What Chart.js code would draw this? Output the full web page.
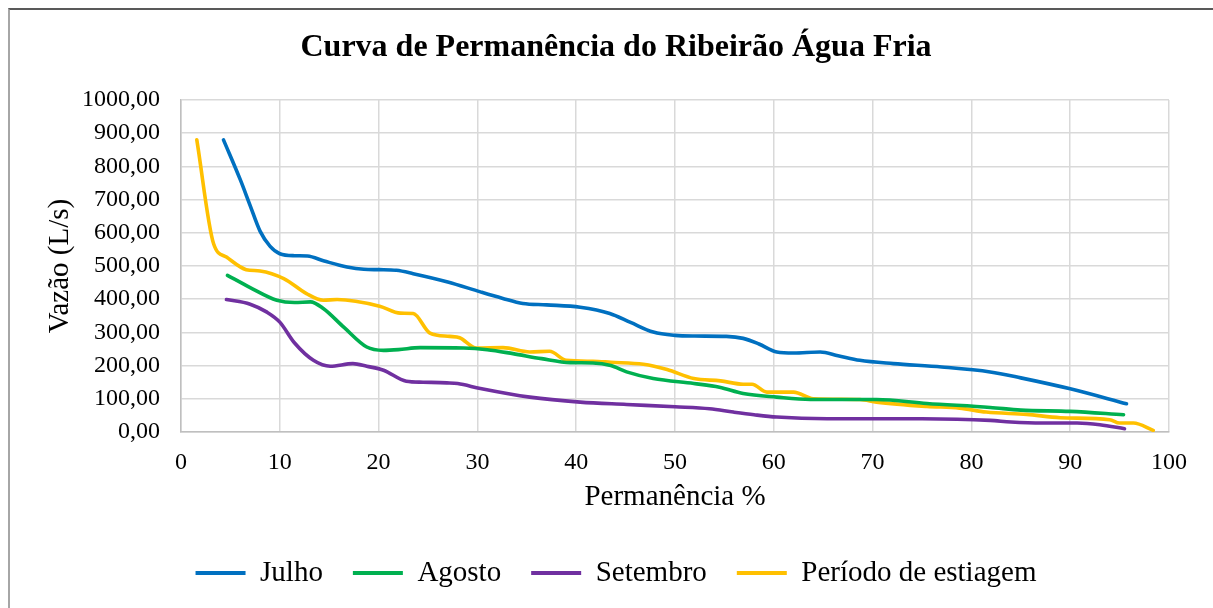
<!DOCTYPE html>
<html>
<head>
<meta charset="utf-8">
<script src="https://cdn.jsdelivr.net/npm/chart.js@4.4.1/dist/chart.umd.min.js"></script>
<style>
  html, body { margin: 0; padding: 0; background: #ffffff; overflow: hidden; }
  #frame { position: absolute; left: 8px; top: 8px; width: 1400px; height: 800px;
           border-top: 2px solid #595959; border-left: 2px solid #a6a6a6; }
  #wrap { position: absolute; left: 0; top: 0; width: 1213px; height: 608px; }
</style>
</head>
<body>
<div id="frame"></div>
<div id="wrap"><canvas id="c" width="1213" height="608"></canvas></div>
<script>
const chartTitle = 'Curva de Permanência do Ribeirão Água Fria';
const seriesNames = ['Julho', 'Agosto', 'Setembro', 'Período de estiagem'];
const seriesColors = ['#0070C0', '#00B050', '#7030A0', '#FFC000'];
const yTicks = [0, 100, 200, 300, 400, 500, 600, 700, 800, 900, 1000];
const xTicks = [0, 10, 20, 30, 40, 50, 60, 70, 80, 90, 100];

const julhoX = [4.3, 6, 7, 8, 9, 10, 11.5, 12.8, 14.5, 16.8, 18.5, 20.1, 21.8, 23.5, 27, 30.3, 32.5, 34.6, 37, 40.4, 43.4, 45.5, 47.8, 50, 52, 55.2, 56.9, 58.5, 60.3, 62, 64.7, 66.5, 68.7, 72.1, 77, 81.9, 85, 90, 95.7];
const julhoY = [880, 760, 682, 605, 560, 537, 531, 530, 515, 497, 490, 489, 487, 477, 452, 422, 403, 387, 383, 376, 357, 330, 301, 291, 289, 288, 282, 265, 241, 238, 241, 230, 216, 206, 196, 181, 163, 130, 85];

const agostoX = [4.7, 7, 9.7, 11.5, 13.1, 14.4, 16.5, 18.8, 20.5, 22, 24.2, 28.6, 31, 33.6, 36.5, 39.4, 41.7, 43.5, 45.1, 47.8, 51.9, 54.5, 56.9, 60.3, 63.7, 70.4, 75.5, 81.9, 85, 90, 95.4];
const agostoY = [472, 435, 397, 390, 392, 372, 315, 256, 246, 248, 254, 253, 248, 236, 221, 209, 208, 200, 181, 161, 146, 135, 116, 105, 98, 98, 86, 74, 66, 62, 52];

const setembroX = [4.6, 7, 8.7, 10, 11.5, 13.4, 15.1, 17.4, 18.8, 20.5, 22.8, 24.5, 26.9, 28, 30.3, 35.3, 40.4, 45.1, 50, 53.5, 55.9, 58, 60.3, 65.4, 70, 75, 81.9, 84, 87.2, 90.7, 93, 95.5];
const setembroY = [399, 385, 361, 331, 268, 216, 198, 206, 198, 186, 153, 150, 148, 146, 131, 105, 90, 83, 76, 70, 60, 52, 45, 40, 40, 40, 35, 30, 27, 27, 22, 10];

const estiagemX = [1.6, 3.3, 4.6, 6.6, 8, 10.4, 12.7, 14.4, 15.8, 20.1, 22.2, 23.5, 25.2, 27.2, 28.2, 29.9, 32.6, 35.3, 37.3, 39, 41.7, 43.5, 46.8, 49.2, 51.9, 54.6, 56.9, 57.8, 59.3, 62, 64, 68.7, 70.4, 75.5, 78.8, 81.5, 85.6, 89, 94, 95, 96.4, 98.4];
const estiagemY = [880, 567, 527, 489, 485, 462, 417, 397, 399, 379, 358, 357, 298, 288, 284, 253, 254, 241, 243, 216, 213, 210, 204, 188, 161, 154, 144, 144, 120, 120, 100, 98, 90, 77, 72, 60, 53, 43, 37, 27, 27, 5];

const seriesX = [julhoX, agostoX, setembroX, estiagemX];
const seriesY = [julhoY, agostoY, setembroY, estiagemY];

const FONT = "'Liberation Serif', 'Times New Roman', serif";

const datasets = seriesNames.map((name, i) => ({
  label: name,
  data: seriesX[i].map((x, k) => ({ x: x, y: seriesY[i][k] })),
  borderColor: seriesColors[i],
  backgroundColor: seriesColors[i],
  borderWidth: 3.6,
  showLine: true,
  pointRadius: 0,
  pointHoverRadius: 0,
  cubicInterpolationMode: 'monotone',
  borderCapStyle: 'round',
  borderJoinStyle: 'round',
  yAxisID: 'y'
}));

new Chart(document.getElementById('c'), {
  type: 'scatter',
  data: { datasets: datasets },
  options: {
    responsive: false,
    animation: false,
    devicePixelRatio: 1,
    layout: { padding: { left: 19, right: 0, top: 0, bottom: 10.5 } },
    plugins: {
      tooltip: { enabled: false },
      title: {
        display: true,
        text: chartTitle,
        color: '#000000',
        font: { family: FONT, size: 32, weight: 'bold', lineHeight: 1.2 },
        padding: { top: 28.8, bottom: 32.8 }
      },
      legend: {
        position: 'bottom',
        labels: {
          color: '#000000',
          font: { family: FONT, size: 29 },
          boxWidth: 50,
          boxHeight: 4,
          padding: 30,
          generateLabels: (chart) => {
            const items = Chart.defaults.plugins.legend.labels.generateLabels(chart);
            return items.map(it => Object.assign(it, { lineWidth: 0, fillStyle: it.strokeStyle }));
          }
        }
      }
    },
    scales: {
      x: {
        type: 'linear',
        min: 0, max: 100,
        afterBuildTicks: (s) => { s.ticks = xTicks.map(v => ({ value: v })); },
        afterFit: (s) => { s.height = 96.5; },
        ticks: { color: '#000000', font: { family: FONT, size: 24 }, padding: 16, maxRotation: 0 },
        grid: { color: '#d9d9d9', lineWidth: 1.5, drawTicks: false },
        border: { color: '#bfbfbf', width: 1.5 },
        title: { display: true, text: 'Permanência %', color: '#000000', font: { family: FONT, size: 29, lineHeight: 1.2 }, padding: { top: 0, bottom: 14 } }
      },
      y: {
        type: 'linear',
        position: 'left',
        min: 0, max: 1000,
        afterBuildTicks: (s) => { s.ticks = yTicks.map(v => ({ value: v })); },
        afterFit: (s) => { s.width = 162; },
        ticks: { color: '#000000', font: { family: FONT, size: 24 }, padding: 21,
                 callback: (v) => v.toFixed(2).replace('.', ',') },
        grid: { color: '#d9d9d9', lineWidth: 1.5, drawTicks: false },
        border: { color: '#bfbfbf', width: 1.5 },
        title: { display: true, text: 'Vazão (L/s)', color: '#000000', font: { family: FONT, size: 29, lineHeight: 1.2 }, padding: { top: 23.6, bottom: 0 } }
      },
      yRight: {
        type: 'linear',
        position: 'right',
        display: true,
        min: 0, max: 1000,
        afterFit: (s) => { s.width = 44; },
        ticks: { display: false },
        grid: { display: false, drawOnChartArea: false },
        border: { display: false }
      }
    }
  }
});
</script>
</body>
</html>
